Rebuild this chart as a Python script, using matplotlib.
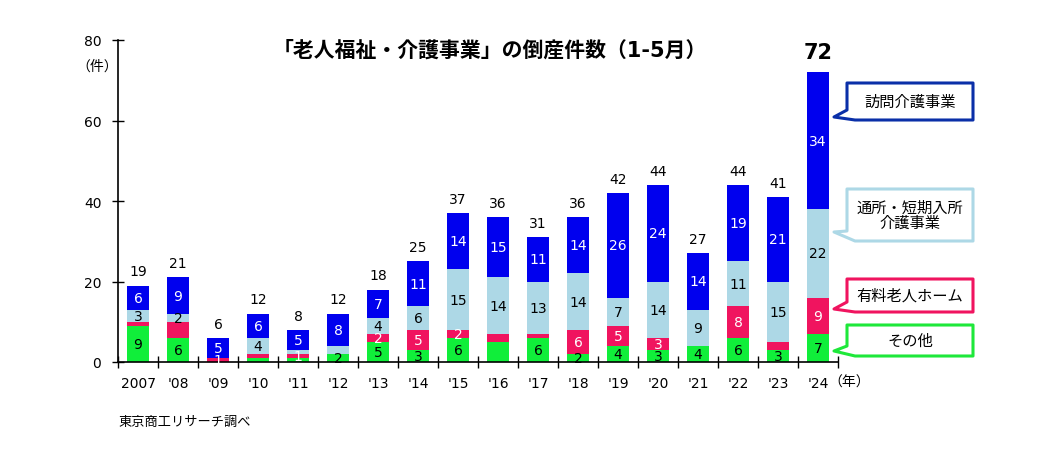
import matplotlib.pyplot as plt
import numpy as np
from matplotlib.patches import Polygon

plt.rcParams['font.family'] = ['DejaVu Sans', 'Noto Sans CJK JP']

years = ['2007', "'08", "'09", "'10", "'11", "'12", "'13", "'14", "'15",
         "'16", "'17", "'18", "'19", "'20", "'21", "'22", "'23", "'24"]
other = [9, 6, 0, 1, 1, 2, 5, 3, 6, 5, 6, 2, 4, 3, 4, 6, 3, 7]
yuryo = [1, 4, 1, 1, 1, 0, 2, 5, 2, 2, 1, 6, 5, 3, 0, 8, 2, 9]
tsusho = [3, 2, 0, 4, 1, 2, 4, 6, 15, 14, 13, 14, 7, 14, 9, 11, 15, 22]
houmon = [6, 9, 5, 6, 5, 8, 7, 11, 14, 15, 11, 14, 26, 24, 14, 19, 21, 34]

# which segment values are printed in the original (None = no label)
other_lbl = [9, 6, None, None, None, 2, 5, 3, 6, None, 6, 2, 4, 3, 4, 6, 3, 7]
yuryo_lbl = [None, None, 1, None, 1, None, 2, 5, 2, None, None, 6, 5, 3, None, 8, None, 9]
tsusho_lbl = [3, 2, None, 4, None, None, 4, 6, 15, 14, 13, 14, 7, 14, 9, 11, 15, 22]
houmon_lbl = houmon

c_blue = '#0000EE'
c_lblue = '#ADD8E6'
c_pink = '#F0145F'
c_green = '#10EE3A'

fig = plt.figure(figsize=(10.46, 4.6), dpi=100)
ax = fig.add_axes([118/1046, 97/460, 720/1046, 322/460])

x = np.arange(len(years))
w = 0.57
series = [(other, other_lbl, c_green, 'black'),
          (yuryo, yuryo_lbl, c_pink, 'white'),
          (tsusho, tsusho_lbl, c_lblue, 'black'),
          (houmon, houmon_lbl, c_blue, 'white')]
bottom = np.zeros(len(years))
for vals, lbls, col, tcol in series:
    vals = np.array(vals, dtype=float)
    ax.bar(x, vals, w, bottom=bottom, color=col, edgecolor='none', zorder=2)
    for i, lb in enumerate(lbls):
        if lb is not None:
            ax.text(x[i], bottom[i] + vals[i] / 2, str(lb), ha='center', va='center',
                    color=tcol, fontsize=10, zorder=3)
    bottom += vals

totals = bottom
for i, t in enumerate(totals):
    if i == len(totals) - 1:
        ax.text(x[i], t + 2.6, str(int(t)), ha='center', va='bottom',
                fontsize=15, fontweight='bold')
    else:
        ax.text(x[i], t + 1.8, str(int(t)), ha='center', va='bottom', fontsize=10)

ax.set_xlim(-0.5, len(years) - 0.5)
ax.set_ylim(0, 80)
ax.set_yticks([0, 20, 40, 60, 80])
ax.set_xticks(x)
ax.set_xticklabels(years, fontsize=10)
ax.set_xticks(np.arange(-0.5, len(years)), minor=True)
ax.tick_params(axis='x', which='major', length=0, pad=10)
ax.tick_params(axis='x', which='minor', length=8, direction='inout', width=1)
ax.tick_params(axis='y', length=8, direction='inout', width=1, labelsize=10, pad=8)
for s in ['top', 'right']:
    ax.spines[s].set_visible(False)
for s in ['left', 'bottom']:
    ax.spines[s].set_linewidth(1.2)

def px(xp, yp):
    return (xp / 1046, 1 - yp / 460)

fig.text(*px(490, 50), '「老人福祉・介護事業」の倒産件数（1-5月）', ha='center', va='center',
         fontsize=15, fontweight='bold')
fig.text(*px(97, 67), '（件）', ha='center', va='center', fontsize=10)
fig.text(*px(849, 383), '（年）', ha='center', va='center', fontsize=10)
fig.text(*px(118, 422), '東京商工リサーチ調べ', ha='left', va='center', fontsize=9.5)

callouts = [
    ('訪問介護事業', '#0A2FA8', 84, 121, 118),
    ('通所・短期入所\n介護事業', c_lblue, 190, 242, 233),
    ('有料老人ホーム', c_pink, 280, 313, 310),
    ('その他', '#1EE83A', 326, 357, 352),
]
x0, x1 = 847, 973
for txt, col, ytop, ybot, ytip in callouts:
    pts = [(x0, ytop), (x1, ytop), (x1, ybot), (x0 + 8, ybot), (834, ytip),
           (x0, ybot - 10), (x0, ytop)]
    poly = Polygon([px(a, b) for a, b in pts], closed=True, transform=fig.transFigure,
                   facecolor='white', edgecolor=col, linewidth=2.2, joinstyle='round')
    fig.add_artist(poly)
    fig.text(*px((x0 + x1) / 2, (ytop + ybot) / 2), txt, ha='center', va='center',
             fontsize=11, linespacing=1.0)

plt.savefig('out.png', dpi=100)
